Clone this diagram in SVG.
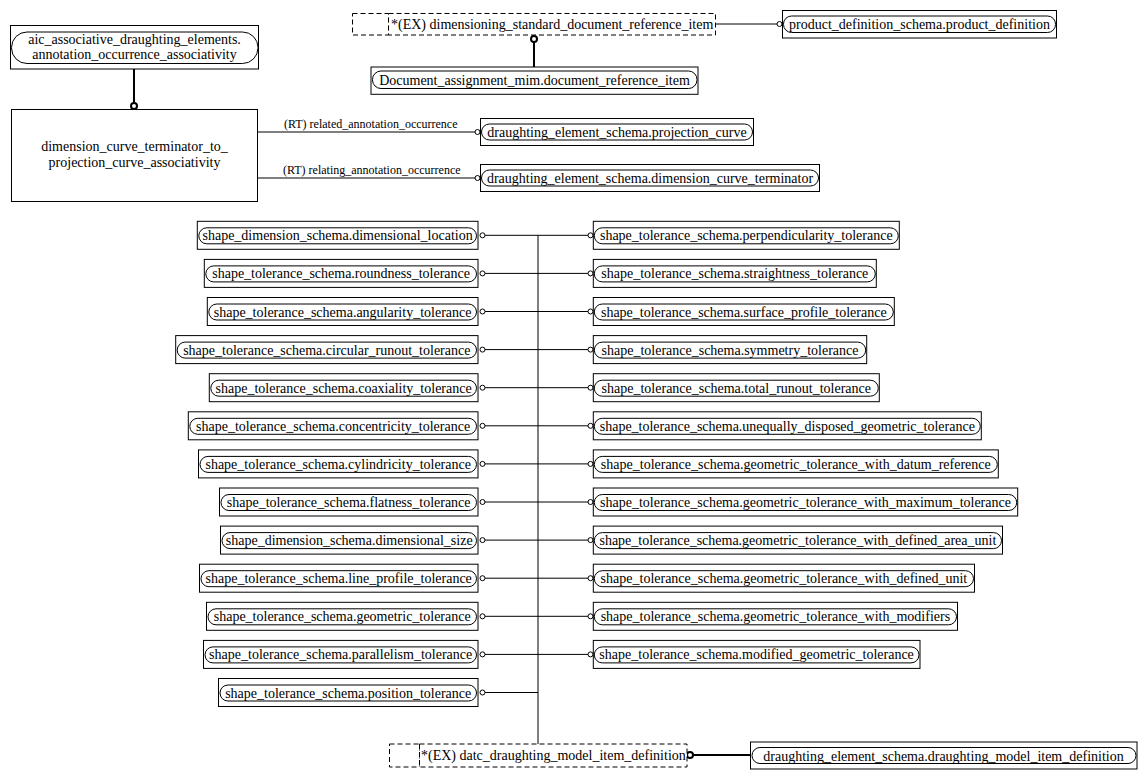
<svg xmlns="http://www.w3.org/2000/svg" width="1146" height="779" viewBox="0 0 1146 779">
<style>
text{font-family:"Liberation Serif","Times New Roman",serif;font-size:14px;fill:#000}
.lbl{font-size:12px}
.m{text-anchor:middle}
.box{fill:#fff;stroke:#000;stroke-width:1}
.in{fill:none;stroke:#000;stroke-width:1}
.dash{fill:#fff;stroke:#000;stroke-width:1;stroke-dasharray:5,3}
.ln{fill:none;stroke:#000;stroke-width:1}
.thick{fill:none;stroke:#000;stroke-width:2}
.c{fill:#fff;stroke:#000;stroke-width:1}
.ct{fill:#fff;stroke:#000;stroke-width:2}
</style>
<rect width="1146" height="779" fill="#fff"/>
<g id="connectors">
<line class="thick" x1="134" y1="69" x2="134" y2="103"/>
<circle class="ct" cx="134" cy="106" r="3"/>
<line class="thick" x1="534" y1="42" x2="534" y2="67"/>
<circle class="ct" cx="534" cy="39" r="3"/>
<line class="ln" x1="716" y1="24" x2="777" y2="24"/>
<circle class="c" cx="779.5" cy="24" r="2.5"/>
<line class="ln" x1="258" y1="132" x2="475" y2="132"/>
<circle class="c" cx="477.5" cy="132" r="2.5"/>
<line class="ln" x1="258" y1="178" x2="475" y2="178"/>
<circle class="c" cx="477.5" cy="178" r="2.5"/>
<text class="lbl" x="284" y="128">(RT) related_annotation_occurrence</text>
<text class="lbl" x="283" y="174">(RT) relating_annotation_occurrence</text>
<line class="ln" x1="538" y1="235.3" x2="538" y2="744"/>
<g id="left-links">
<line class="ln" x1="485" y1="235.3" x2="538" y2="235.3"/><circle class="c" cx="482.5" cy="235.3" r="2.5"/>
<line class="ln" x1="485" y1="273.4" x2="538" y2="273.4"/><circle class="c" cx="482.5" cy="273.4" r="2.5"/>
<line class="ln" x1="485" y1="311.5" x2="538" y2="311.5"/><circle class="c" cx="482.5" cy="311.5" r="2.5"/>
<line class="ln" x1="485" y1="349.6" x2="538" y2="349.6"/><circle class="c" cx="482.5" cy="349.6" r="2.5"/>
<line class="ln" x1="485" y1="387.7" x2="538" y2="387.7"/><circle class="c" cx="482.5" cy="387.7" r="2.5"/>
<line class="ln" x1="485" y1="425.8" x2="538" y2="425.8"/><circle class="c" cx="482.5" cy="425.8" r="2.5"/>
<line class="ln" x1="485" y1="463.9" x2="538" y2="463.9"/><circle class="c" cx="482.5" cy="463.9" r="2.5"/>
<line class="ln" x1="485" y1="502" x2="538" y2="502"/><circle class="c" cx="482.5" cy="502" r="2.5"/>
<line class="ln" x1="485" y1="540.1" x2="538" y2="540.1"/><circle class="c" cx="482.5" cy="540.1" r="2.5"/>
<line class="ln" x1="485" y1="578.2" x2="538" y2="578.2"/><circle class="c" cx="482.5" cy="578.2" r="2.5"/>
<line class="ln" x1="485" y1="616.3" x2="538" y2="616.3"/><circle class="c" cx="482.5" cy="616.3" r="2.5"/>
<line class="ln" x1="485" y1="654.4" x2="538" y2="654.4"/><circle class="c" cx="482.5" cy="654.4" r="2.5"/>
<line class="ln" x1="485" y1="692.5" x2="538" y2="692.5"/><circle class="c" cx="482.5" cy="692.5" r="2.5"/>
</g>
<g id="right-links">
<line class="ln" x1="538" y1="235.3" x2="588" y2="235.3"/><circle class="c" cx="590.5" cy="235.3" r="2.5"/>
<line class="ln" x1="538" y1="273.4" x2="588" y2="273.4"/><circle class="c" cx="590.5" cy="273.4" r="2.5"/>
<line class="ln" x1="538" y1="311.5" x2="588" y2="311.5"/><circle class="c" cx="590.5" cy="311.5" r="2.5"/>
<line class="ln" x1="538" y1="349.6" x2="588" y2="349.6"/><circle class="c" cx="590.5" cy="349.6" r="2.5"/>
<line class="ln" x1="538" y1="387.7" x2="588" y2="387.7"/><circle class="c" cx="590.5" cy="387.7" r="2.5"/>
<line class="ln" x1="538" y1="425.8" x2="588" y2="425.8"/><circle class="c" cx="590.5" cy="425.8" r="2.5"/>
<line class="ln" x1="538" y1="463.9" x2="588" y2="463.9"/><circle class="c" cx="590.5" cy="463.9" r="2.5"/>
<line class="ln" x1="538" y1="502" x2="588" y2="502"/><circle class="c" cx="590.5" cy="502" r="2.5"/>
<line class="ln" x1="538" y1="540.1" x2="588" y2="540.1"/><circle class="c" cx="590.5" cy="540.1" r="2.5"/>
<line class="ln" x1="538" y1="578.2" x2="588" y2="578.2"/><circle class="c" cx="590.5" cy="578.2" r="2.5"/>
<line class="ln" x1="538" y1="616.3" x2="588" y2="616.3"/><circle class="c" cx="590.5" cy="616.3" r="2.5"/>
<line class="ln" x1="538" y1="654.4" x2="588" y2="654.4"/><circle class="c" cx="590.5" cy="654.4" r="2.5"/>
</g>
<line class="thick" x1="693" y1="755" x2="750" y2="755"/>
<circle class="ct" cx="690" cy="755" r="3"/>
</g>

<g id="aic">
<rect class="box" x="10.5" y="25.5" width="248" height="43.5"/>
<rect class="in" x="11.5" y="32" width="246.5" height="31.5" rx="15.5"/>
<text class="m" x="134.5" y="44">aic_associative_draughting_elements.</text>
<text class="m" x="134.5" y="59">annotation_occurrence_associativity</text>
</g>
<g id="dctpca">
<rect class="box" x="11.5" y="109.5" width="246" height="92"/>
<text class="m" x="134.5" y="151">dimension_curve_terminator_to_</text>
<text class="m" x="134.5" y="167">projection_curve_associativity</text>
</g>
<g id="dsdri">
<rect class="dash" x="352.5" y="13.5" width="36" height="21.5"/>
<rect class="dash" x="388.5" y="13.5" width="327" height="21.5"/>
<text x="391" y="28.5">*(EX) dimensioning_standard_document_reference_item</text>
</g>
<g id="pd">
<rect class="box" x="782.5" y="10.5" width="274" height="27.5"/>
<rect class="in" x="783.5" y="16" width="272" height="16.5" rx="8"/>
<text class="m" x="919.5" y="29">product_definition_schema.product_definition</text>
</g>
<g id="dri">
<rect class="box" x="371" y="67" width="327" height="27.3"/>
<rect class="in" x="372.5" y="71" width="324.5" height="17.5" rx="8.5"/>
<text class="m" x="534.5" y="85">Document_assignment_mim.document_reference_item</text>
</g>
<g id="pc">
<rect class="box" x="480.5" y="118.5" width="273" height="27"/>
<rect class="in" x="481.5" y="124" width="271" height="16" rx="8"/>
<text class="m" x="617" y="137">draughting_element_schema.projection_curve</text>
</g>
<g id="dct">
<rect class="box" x="480.5" y="164.5" width="339" height="27"/>
<rect class="in" x="481.5" y="170" width="337" height="16" rx="8"/>
<text class="m" x="650" y="183">draughting_element_schema.dimension_curve_terminator</text>
</g>

<g id="l1"><rect class="box" x="197.3" y="221.3" width="280.7" height="28"/><rect class="in" x="198.8" y="227.8" width="277.7" height="16" rx="8"/><text class="m" x="337.6" y="240.3">shape_dimension_schema.dimensional_location</text></g>
<g id="l2"><rect class="box" x="204.3" y="259.4" width="273.7" height="28"/><rect class="in" x="205.8" y="265.9" width="270.7" height="16" rx="8"/><text class="m" x="341.1" y="278.4">shape_tolerance_schema.roundness_tolerance</text></g>
<g id="l3"><rect class="box" x="207.3" y="297.5" width="270.7" height="28"/><rect class="in" x="208.8" y="304" width="267.7" height="16" rx="8"/><text class="m" x="342.6" y="316.5">shape_tolerance_schema.angularity_tolerance</text></g>
<g id="l4"><rect class="box" x="175.7" y="335.6" width="302.3" height="28"/><rect class="in" x="177.2" y="342.1" width="299.3" height="16" rx="8"/><text class="m" x="326.8" y="354.6">shape_tolerance_schema.circular_runout_tolerance</text></g>
<g id="l5"><rect class="box" x="209.3" y="373.7" width="268.7" height="28"/><rect class="in" x="210.8" y="380.2" width="265.7" height="16" rx="8"/><text class="m" x="343.6" y="392.7">shape_tolerance_schema.coaxiality_tolerance</text></g>
<g id="l6"><rect class="box" x="188.3" y="411.8" width="289.7" height="28"/><rect class="in" x="189.8" y="418.3" width="286.7" height="16" rx="8"/><text class="m" x="333.1" y="430.8">shape_tolerance_schema.concentricity_tolerance</text></g>
<g id="l7"><rect class="box" x="198.5" y="449.9" width="279.5" height="28"/><rect class="in" x="200" y="456.4" width="276.5" height="16" rx="8"/><text class="m" x="338.2" y="468.9">shape_tolerance_schema.cylindricity_tolerance</text></g>
<g id="l8"><rect class="box" x="219.5" y="488" width="258.5" height="28"/><rect class="in" x="221" y="494.5" width="255.5" height="16" rx="8"/><text class="m" x="348.7" y="507">shape_tolerance_schema.flatness_tolerance</text></g>
<g id="l9"><rect class="box" x="220.5" y="526.1" width="257.5" height="28"/><rect class="in" x="222" y="532.6" width="254.5" height="16" rx="8"/><text class="m" x="349.2" y="545.1">shape_dimension_schema.dimensional_size</text></g>
<g id="l10"><rect class="box" x="199.5" y="564.2" width="278.5" height="28"/><rect class="in" x="201" y="570.7" width="275.5" height="16" rx="8"/><text class="m" x="338.7" y="583.2">shape_tolerance_schema.line_profile_tolerance</text></g>
<g id="l11"><rect class="box" x="206.5" y="602.3" width="271.5" height="28"/><rect class="in" x="208" y="608.8" width="268.5" height="16" rx="8"/><text class="m" x="342.2" y="621.3">shape_tolerance_schema.geometric_tolerance</text></g>
<g id="l12"><rect class="box" x="203.5" y="640.4" width="274.5" height="28"/><rect class="in" x="205" y="646.9" width="271.5" height="16" rx="8"/><text class="m" x="340.7" y="659.4">shape_tolerance_schema.parallelism_tolerance</text></g>
<g id="l13"><rect class="box" x="218.5" y="678.5" width="259.5" height="28"/><rect class="in" x="220" y="685" width="256.5" height="16" rx="8"/><text class="m" x="348.2" y="697.5">shape_tolerance_schema.position_tolerance</text></g>

<g id="r1"><rect class="box" x="593.3" y="221.3" width="306" height="28"/><rect class="in" x="594.3" y="227.8" width="304" height="16" rx="8"/><text class="m" x="746.3" y="240.3">shape_tolerance_schema.perpendicularity_tolerance</text></g>
<g id="r2"><rect class="box" x="593.3" y="259.4" width="283" height="28"/><rect class="in" x="594.3" y="265.9" width="281" height="16" rx="8"/><text class="m" x="734.8" y="278.4">shape_tolerance_schema.straightness_tolerance</text></g>
<g id="r3"><rect class="box" x="593.3" y="297.5" width="301" height="28"/><rect class="in" x="594.3" y="304" width="299" height="16" rx="8"/><text class="m" x="743.8" y="316.5">shape_tolerance_schema.surface_profile_tolerance</text></g>
<g id="r4"><rect class="box" x="593.3" y="335.6" width="273.4" height="28"/><rect class="in" x="594.3" y="342.1" width="271.4" height="16" rx="8"/><text class="m" x="730" y="354.6">shape_tolerance_schema.symmetry_tolerance</text></g>
<g id="r5"><rect class="box" x="593.3" y="373.7" width="286" height="28"/><rect class="in" x="594.3" y="380.2" width="284" height="16" rx="8"/><text class="m" x="736.3" y="392.7">shape_tolerance_schema.total_runout_tolerance</text></g>
<g id="r6"><rect class="box" x="593.3" y="411.8" width="388" height="28"/><rect class="in" x="594.3" y="418.3" width="386" height="16" rx="8"/><text class="m" x="787.3" y="430.8">shape_tolerance_schema.unequally_disposed_geometric_tolerance</text></g>
<g id="r7"><rect class="box" x="593.3" y="449.9" width="405" height="28"/><rect class="in" x="594.3" y="456.4" width="403" height="16" rx="8"/><text class="m" x="795.8" y="468.9">shape_tolerance_schema.geometric_tolerance_with_datum_reference</text></g>
<g id="r8"><rect class="box" x="593.3" y="488" width="424.4" height="28"/><rect class="in" x="594.3" y="494.5" width="422.4" height="16" rx="8"/><text class="m" x="805.5" y="507">shape_tolerance_schema.geometric_tolerance_with_maximum_tolerance</text></g>
<g id="r9"><rect class="box" x="593.3" y="526.1" width="409.2" height="28"/><rect class="in" x="594.3" y="532.6" width="407.2" height="16" rx="8"/><text class="m" x="797.9" y="545.1">shape_tolerance_schema.geometric_tolerance_with_defined_area_unit</text></g>
<g id="r10"><rect class="box" x="593.3" y="564.2" width="381.2" height="28"/><rect class="in" x="594.3" y="570.7" width="379.2" height="16" rx="8"/><text class="m" x="783.9" y="583.2">shape_tolerance_schema.geometric_tolerance_with_defined_unit</text></g>
<g id="r11"><rect class="box" x="593.3" y="602.3" width="364.2" height="28"/><rect class="in" x="594.3" y="608.8" width="362.2" height="16" rx="8"/><text class="m" x="775.4" y="621.3">shape_tolerance_schema.geometric_tolerance_with_modifiers</text></g>
<g id="r12"><rect class="box" x="593.3" y="640.4" width="326.7" height="28"/><rect class="in" x="594.3" y="646.9" width="324.7" height="16" rx="8"/><text class="m" x="756.6" y="659.4">shape_tolerance_schema.modified_geometric_tolerance</text></g>

<g id="dmid">
<rect class="dash" x="389.5" y="744" width="30" height="23"/>
<rect class="dash" x="419.5" y="744" width="267.5" height="23"/>
<text x="421" y="760">*(EX) datc_draughting_model_item_definition</text>
</g>
<g id="desdmid">
<rect class="box" x="750.5" y="742" width="386.5" height="27"/>
<rect class="in" x="752" y="747.5" width="384" height="16" rx="8"/>
<text class="m" x="943.5" y="760.5">draughting_element_schema.draughting_model_item_definition</text>
</g>
</svg>
